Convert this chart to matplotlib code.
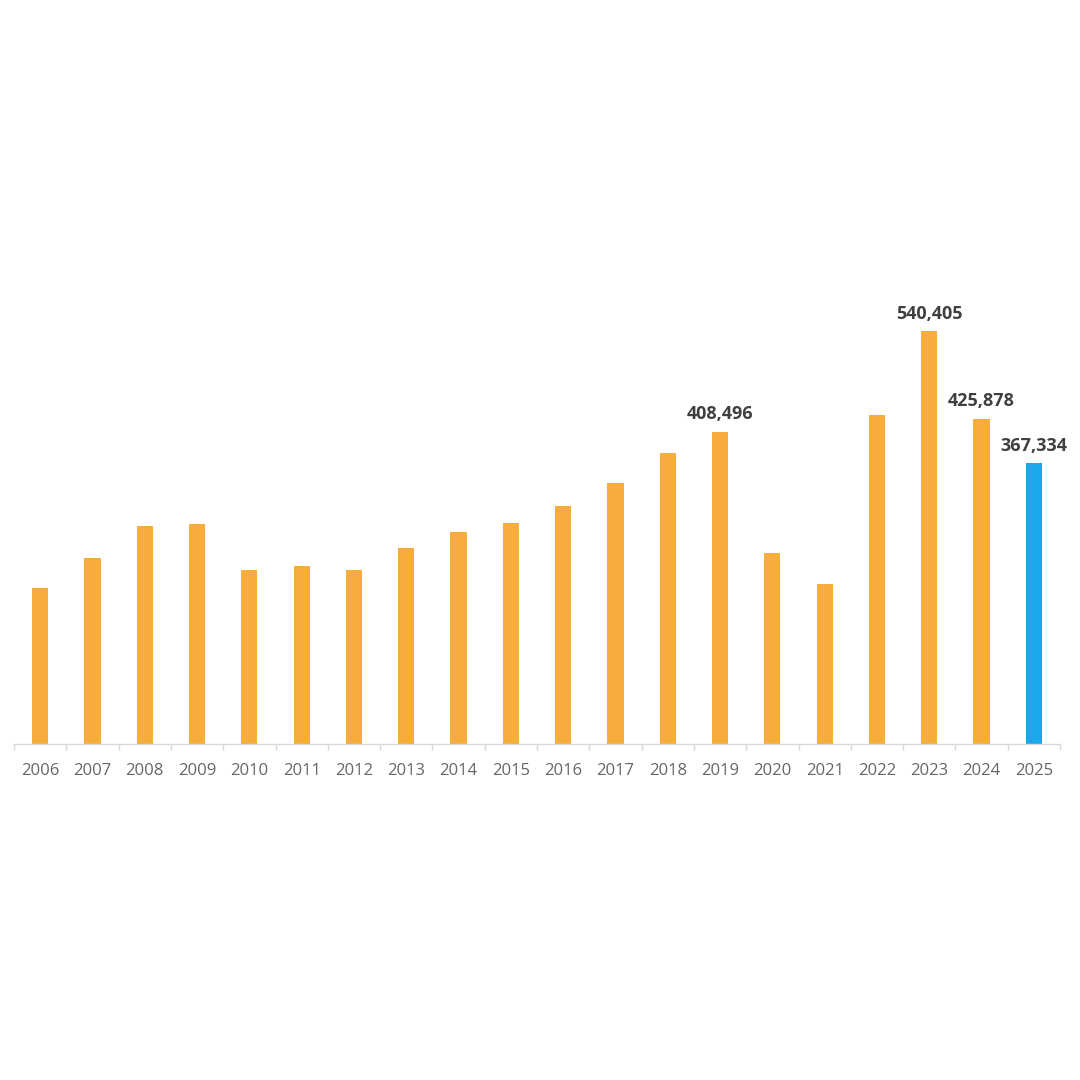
import matplotlib
matplotlib.use("Agg")
import matplotlib.pyplot as plt
import numpy as np

years = [str(y) for y in range(2006, 2026)]
values = [204000, 243000, 285000, 288000, 228000, 233000, 228000, 256000, 277000, 289000,
          311000, 341000, 381000, 408496, 250000, 209000, 430000, 540405, 425878, 367334]
labelled = {"2019": 408496, "2023": 540405, "2024": 425878, "2025": 367334}

orange = "#F7AD3B"
blue = "#19A9EA"
colors = [blue if y == "2025" else orange for y in years]

plt.rcParams['font.family'] = ['Open Sans', 'DejaVu Sans']

fig = plt.figure(figsize=(10.8, 10.8), dpi=100)
ax = fig.add_axes([14/1080, 1 - 744/1080, 1046/1080, 458.5/1080])

x = np.arange(len(years))
ax.bar(x, values, width=0.31, color=colors, zorder=2)

for i, y in enumerate(years):
    if y in labelled:
        ax.text(i, values[i] + 11000, f"{labelled[y]:,}", ha='center', va='bottom',
                fontsize=13, fontweight='bold', color='#404040')

ax.set_xlim(-0.5, len(years) - 0.5)
ax.set_ylim(0, 600000)
ax.set_xticks(x)
ax.set_xticklabels(years, fontsize=12, color='#666666')
ax.set_xticks(np.arange(-0.5, len(years)), minor=True)
ax.tick_params(axis='x', which='major', length=0, pad=14)
ax.tick_params(axis='x', which='minor', length=4, color='#D9D9D9', width=1)
ax.set_yticks([])
for s in ['top', 'right', 'left']:
    ax.spines[s].set_visible(False)
ax.spines['bottom'].set_color('#D9D9D9')
ax.spines['bottom'].set_linewidth(1)

fig.savefig("out.png", dpi=100, facecolor='white')
